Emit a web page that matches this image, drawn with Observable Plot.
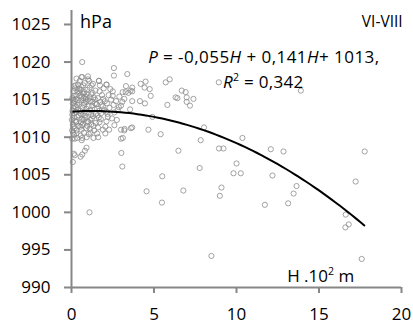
<!DOCTYPE html>
<html><head><meta charset="utf-8">
<script src="https://cdn.jsdelivr.net/npm/d3@7"></script>
<script src="https://cdn.jsdelivr.net/npm/@observablehq/plot@0.6"></script>
<style>
body{margin:0;background:#fff;}
#chart svg{display:block;}
</style></head><body><div id="chart"></div>
<script>
// Observations [H (10^2 m), P (hPa)] — dense low-altitude cluster
const clusterObs = [
[0.05,1009.8],[0.1,1010.6],[0.2,1011.2],[0.08,1011.7],[0.3,1012.1],[0.15,1012.6],[0.05,1013.0],[0.25,1013.4],[0.1,1013.9],[0.35,1014.3],
[0.2,1014.8],[0.05,1015.2],[0.3,1015.6],[0.12,1016.1],[0.22,1016.5],[0.4,1017.0],[0.1,1015.0],[0.45,1012.9],[0.3,1010.9],[0.42,1011.5],
[0.18,1014.1],[0.48,1015.9],[0.25,1016.9],[0.4,1013.7],[0.02,1012.3],[0.35,1009.9],[0.15,1010.3],[0.45,1014.6],[0.28,1012.0],[0.08,1014.5],
[0.55,1010.2],[0.6,1011.0],[0.7,1011.8],[0.65,1012.4],[0.8,1012.9],[0.55,1013.5],[0.9,1013.8],[0.75,1014.3],[0.6,1014.9],[0.85,1015.4],
[0.7,1015.8],[0.95,1016.3],[0.6,1016.7],[0.8,1017.2],[0.65,1018.0],[1.0,1017.7],[0.9,1011.2],[0.75,1010.6],[0.95,1012.1],[0.58,1012.0],
[0.88,1014.7],[0.68,1013.0],[0.98,1015.0],[0.52,1015.5],[0.78,1016.0],[0.92,1010.0],[0.62,1009.6],[0.82,1013.4],[0.72,1016.9],[0.5,1017.5],
[1.05,1010.4],[1.1,1011.1],[1.2,1011.7],[1.15,1012.3],[1.3,1012.8],[1.05,1013.3],[1.4,1013.7],[1.25,1014.2],[1.1,1014.8],[1.35,1015.3],
[1.2,1015.7],[1.45,1016.2],[1.1,1016.6],[1.3,1017.1],[1.07,1017.5],[1.38,1010.9],[1.48,1011.9],[1.18,1013.0],[1.42,1014.5],[1.28,1015.9],
[1.02,1012.0],[1.33,1009.9],[1.22,1016.9],[1.47,1013.1],
[1.55,1010.5],[1.6,1011.3],[1.7,1012.0],[1.65,1012.6],[1.8,1013.2],[1.55,1013.8],[1.9,1014.1],[1.75,1014.7],[1.6,1015.2],[1.85,1015.6],
[1.7,1016.1],[1.95,1016.5],[1.66,1017.5],[1.72,1016.9],[1.9,1011.0],[1.78,1012.4],[1.52,1014.4],[1.98,1013.6],[1.62,1010.0],
[2.05,1011.4],[2.12,1012.1],[2.2,1012.7],[2.1,1013.4],[2.3,1013.9],[2.15,1014.5],[2.4,1015.0],[2.25,1015.6],[2.12,1017.0],[2.5,1016.1],
[2.35,1016.4],[2.55,1014.3],[2.45,1012.5],[2.6,1013.3],[2.05,1010.5],[2.28,1011.0],[2.5,1015.5],
[2.7,1014.8],[2.9,1015.4],[3.1,1016.0],[3.3,1016.8],[2.8,1013.6],[3.0,1014.2],[3.2,1015.1],[3.45,1015.9],[2.75,1012.3],[3.0,1011.0],
[3.2,1010.9],[3.6,1011.2],[3.0,1009.8],[2.6,1011.6],[3.55,1013.7],
[0.3,1017.8],[0.6,1018.0],[1.0,1018.1],[1.66,1017.5],[2.12,1017.0],
[0.04,1010.9],[0.12,1011.4],[0.22,1012.2],[0.33,1012.7],[0.06,1013.5],[0.18,1013.2],[0.28,1014.0],[0.38,1014.9],[0.14,1015.5],[0.26,1015.1],
[0.36,1016.1],[0.46,1016.4],[0.54,1011.4],[0.64,1011.6],[0.74,1012.3],[0.84,1012.6],[0.57,1013.1],[0.67,1013.9],[0.77,1014.6],[0.87,1015.1],
[0.62,1015.4],[0.72,1015.2],[0.92,1015.8],[1.04,1014.1],[1.14,1013.6],[1.24,1012.5],[1.34,1011.5],[1.12,1015.3],[1.27,1014.7],[1.44,1015.0],
[1.58,1012.9],[1.68,1013.5],[1.82,1014.3],[1.92,1015.1],[2.02,1014.8],[2.18,1013.1],[0.16,1016.8],[0.56,1016.3],[0.96,1011.5],[1.16,1010.6]
];
// Observations [H, P] — scattered points
const spreadObs = [
[13.9,1016.2],[10.36,1009.9],[10.0,1006.5],[9.82,1005.2],[10.26,1005.2],[12.08,1008.4],[12.85,1008.1],[17.77,1008.1],[12.18,1004.9],[13.64,1003.5],
[13.46,1002.5],[11.72,1001.0],[13.13,1001.2],[17.22,1004.1],[16.62,999.7],[16.8,998.4],[16.6,998.0],[17.59,993.8],
[3.08,1006.1],[5.5,1004.8],[7.77,1005.9],[4.55,1002.8],[6.78,1002.9],[9.09,1003.3],[8.99,1002.2],[5.48,1001.3],[1.09,1000.0],[8.48,994.2],
[3.68,1016.6],[3.68,1016.1],[3.68,1014.8],[4.19,1017.1],[4.49,1017.4],[4.43,1016.6],[4.74,1016.4],[4.8,1015.5],[4.15,1014.8],[4.45,1014.5],
[5.71,1017.3],[5.95,1017.7],[5.81,1014.3],[6.31,1015.3],[6.42,1015.2],[6.68,1016.2],[6.92,1016.0],[6.98,1015.3],[6.98,1014.7],[7.18,1014.2],
[7.39,1015.1],[8.93,1017.3],[4.9,1012.7],[3.68,1011.3],[4.66,1011.0],[5.4,1010.4],[8.03,1011.3],[7.83,1009.6],[6.48,1008.2],[8.94,1008.5],[9.21,1008.5],
[0.65,1020.0],[2.57,1019.2],[3.38,1018.4],[2.57,1018.2],[3.22,1011.1],[3.11,1009.9],[3.02,1007.9],
[0.2,1009.8],[0.65,1009.9],[0.91,1008.6],[0.81,1008.2],[0.65,1007.7],[0.55,1007.4],[0.14,1007.8],[0.08,1006.7],[0.2,1007.6],[0.3,1010.5],
[3.28,1016.0],[3.58,1016.2],[3.08,1014.7],[2.87,1014.0]
];
const xTicks = [0, 5, 10, 15, 20];
const yTicks = [990, 995, 1000, 1005, 1010, 1015, 1020, 1025];
// quadratic trend as drawn [a, b, c] for a*H^2 + b*H + c, and its H extent
const trendCoef = [-0.056, 0.141, 1013.4];
const trendRange = [0, 17.75];
const equationLine1 = [["P","i"],[" = -0,055",""],["H","i"],[" + 0,141",""],["H","i"],["+ 1013,",""]];
const equationLine2 = [["R","i"],["2","sup"],[" = 0,342",""]];
const xAxisTitle = [["H .10",""],["2","sup"],[" m",""]];
const yAxisTitle = "hPa";
const seasonLabel = "VI-VIII";

const obs = [...clusterObs, ...spreadObs].map(([h, p]) => ({h, p}));
const hs = d3.range(trendRange[0], trendRange[1], 0.25).concat([trendRange[1]]);
const trend = hs.map(h => ({h, p: trendCoef[0]*h*h + trendCoef[1]*h + trendCoef[2]}));

const axisGrey = "#878787";
const plot = Plot.plot({
  width: 413, height: 325,
  marginLeft: 71, marginRight: 12, marginTop: 10, marginBottom: 38,
  style: {fontFamily: "'Open Sans', sans-serif", fontSize: "17px", color: "#000", background: "#fff"},
  x: {domain: [0, 20]},
  y: {domain: [990, 1026.86]},
  marks: [
    Plot.dot(obs, {x: "h", y: "p", r: 2.6, stroke: "#8c8c8c", strokeWidth: 0.8, fill: "none"}),
    Plot.line(trend, {x: "h", y: "p", stroke: "#000", strokeWidth: 2}),
    Plot.axisX({ticks: xTicks, tickSize: 6, tickPadding: 14, stroke: axisGrey, strokeWidth: 2, label: null, tickFormat: d => String(d)}),
    Plot.axisY({ticks: yTicks, tickSize: 7, tickPadding: 14, stroke: axisGrey, strokeWidth: 2, label: null, tickFormat: d => String(d)}),
    Plot.ruleX([0], {stroke: axisGrey, strokeWidth: 2}),
    Plot.ruleY([990], {stroke: axisGrey, strokeWidth: 2})
  ]
});
document.getElementById("chart").appendChild(plot);

const sx = plot.scale("x"), sy = plot.scale("y");
const svg = d3.select(plot);
function addText(x, y, anchor, size, parts, spacing) {
  const t = svg.append("text")
    .attr("x", sx.apply(x)).attr("y", sy.apply(y))
    .attr("text-anchor", anchor)
    .attr("font-size", size)
    .attr("fill", "#000")
    .style("white-space", "pre");
  if (spacing) t.attr("letter-spacing", spacing);
  if (typeof parts === "string") { t.text(parts); return; }
  let shift = 0;
  for (const [s, kind] of parts) {
    const ts = t.append("tspan").text(s);
    if (kind === "i") ts.attr("font-style", "italic");
    if (kind === "sup") {
      ts.attr("font-size", size * 0.62).attr("dy", -size * 0.38);
      shift = size * 0.38;
    } else if (shift) {
      ts.attr("dy", shift); shift = 0;
    }
  }
}
addText(11.69, 1019.8, "middle", 17, equationLine1, 0.45);
addText(11.65, 1016.5, "middle", 17, equationLine2, 0.3);
addText(0.55, 1024.5, "start", 18, yAxisTitle);
addText(20.1, 1024.6, "end", 15.5, seasonLabel);
addText(13.1, 990.7, "start", 17, xAxisTitle);
</script></body></html>
